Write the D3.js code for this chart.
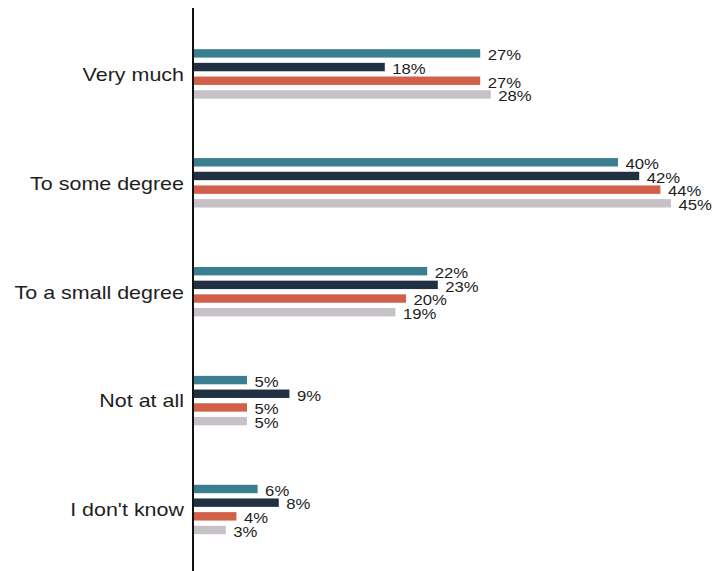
<!DOCTYPE html>
<html>
<head>
<meta charset="utf-8">
<script src="https://cdn.jsdelivr.net/npm/d3@7"></script>
<style>
  html, body { margin: 0; padding: 0; background: #ffffff; }
  svg { display: block; }
  text { font-family: "Liberation Sans", Arial, Helvetica, sans-serif; fill: #1e1e1e; }
</style>
</head>
<body>
<svg id="chart" width="714" height="571"></svg>
<script>
// ---- data ----
const categories = ["Very much", "To some degree", "To a small degree", "Not at all", "I don't know"];
const seriesNames = ["Series A", "Series B", "Series C", "Series D"];
const seriesA = [27, 40, 22, 5, 6];
const seriesB = [18, 42, 23, 9, 8];
const seriesC = [27, 44, 20, 5, 4];
const seriesD = [28, 45, 19, 5, 3];
const seriesColors = ["#3a7f8f", "#213142", "#d0604a", "#c6c1c7"];

const seriesValues = [seriesA, seriesB, seriesC, seriesD];

const svg = d3.select("#chart");

const x = d3.scaleLinear().domain([0, 50]).range([194, 724]);

const y0 = d3.scaleBand()
  .domain(categories)
  .range([19.45, 563.95])
  .paddingInner(0.546)
  .paddingOuter(0.273);

const y1 = d3.scaleBand()
  .domain(seriesNames)
  .range([0, y0.bandwidth()])
  .paddingInner(0.385)
  .paddingOuter(0);

const rows = [];
categories.forEach((c, ci) => {
  seriesNames.forEach((s, si) => {
    rows.push({ cat: c, series: s, si: si, value: seriesValues[si][ci] });
  });
});

// bars
svg.append("g").selectAll("rect")
  .data(rows)
  .join("rect")
  .attr("x", x(0))
  .attr("y", d => y0(d.cat) + y1(d.series))
  .attr("width", d => x(d.value) - x(0))
  .attr("height", y1.bandwidth())
  .attr("fill", d => seriesColors[d.si]);

// value labels
const fmt = v => Math.round(v) + "%";
svg.append("g").selectAll("text")
  .data(rows)
  .join("text")
  .attr("transform", d => {
    const cy = y0(d.cat) + y1(d.series) + y1.bandwidth() / 2;
    return `translate(${x(d.value) + 7.5},${cy + 6.8}) scale(1.16,1)`;
  })
  .style("font-size", "14.4px")
  .text(d => fmt(d.value));

// category axis line
svg.append("line")
  .attr("x1", 193).attr("x2", 193)
  .attr("y1", 8).attr("y2", 571)
  .attr("stroke", "#111")
  .attr("stroke-width", 2);

// category labels
svg.append("g").selectAll("text")
  .data(categories)
  .join("text")
  .attr("text-anchor", "end")
  .attr("transform", d => `translate(184,${y0(d) + y0.bandwidth() / 2 + 6.8}) scale(1.13,1)`)
  .style("font-size", "19px")
  .text(d => d);
</script>
</body>
</html>
